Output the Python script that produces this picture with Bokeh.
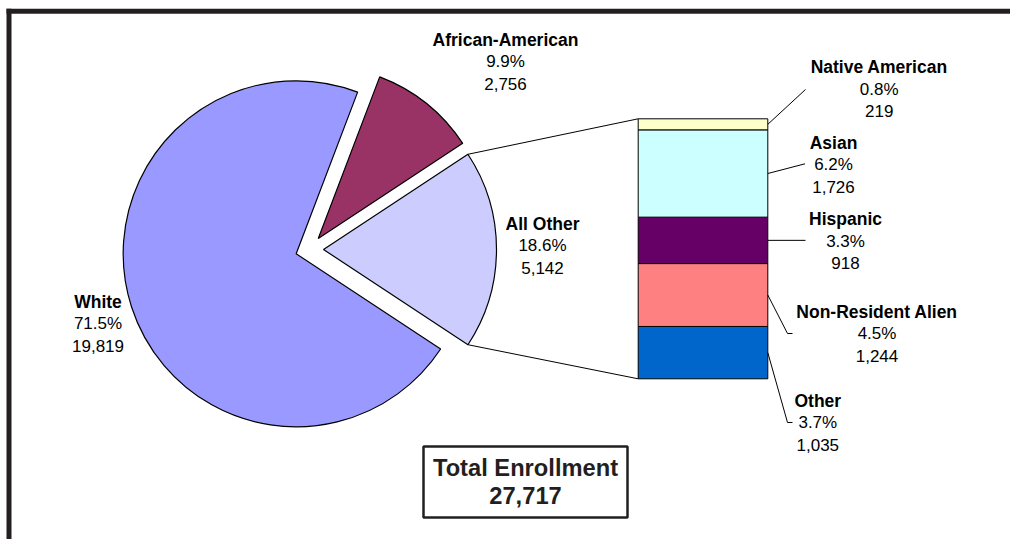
import math
from bokeh.plotting import figure
from bokeh.models import Range1d, ColumnDataSource
from bokeh.core.properties import value
from bokeh.embed import file_html
from bokeh.resources import INLINE

# ---------------- data ----------------
white_value = 19819
african_american_value = 2756
sub_categories = ["Native American", "Asian", "Hispanic", "Non-Resident Alien", "Other"]
sub_values = [219, 1726, 918, 1244, 1035]
all_other_value = sum(sub_values)

pie_categories = ["All Other", "African-American", "White"]
pie_values = [all_other_value, african_american_value, white_value]
total_value = sum(pie_values)
total_title = "Total Enrollment"

# ---------------- styles / layout ----------------
pie_colors = {"All Other": "#CCCCFF", "African-American": "#993366", "White": "#9999FF"}
sub_colors = {"Native American": "#FFFFCC", "Asian": "#CCFFFF", "Hispanic": "#660066",
              "Non-Resident Alien": "#FF8080", "Other": "#0066CC"}
FONT = "Liberation Sans"
W, H = 1010, 539
PIE_CX, PIE_CY, PIE_R, EXPLODE = 309.0, 290.0, 173.0, 14.0
BAR_LEFT, BAR_RIGHT = 637.7, 767.3
BAR_BOTTOM_PX, BAR_TOP_PX = 160.7, 420.7
LINE_STEP = 22.0
TEXT_SHIFT = 8.0
label_anchor = {
    "White": (97.5, 230.0),
    "African-American": (505.0, 491.7),
    "All Other": (542.0, 307.8),
    "Native American": (878.7, 464.2),
    "Asian": (833.0, 388.7),
    "Hispanic": (845.0, 312.3),
    "Non-Resident Alien": (876.5, 219.8),
    "Other": (817.3, 131.0),
}
leader_ends = {
    "Native American": [(805.0, 450.0)],
    "Asian": [(804.5, 375.7)],
    "Hispanic": [(805.0, None)],
    "Non-Resident Alien": [(787.0, 206.0), (792.0, 206.0)],
    "Other": [(787.0, 117.0), (792.0, 117.0)],
}
FRAME = "#231f20"

p = figure(width=W, height=H, x_range=Range1d(0, W), y_range=Range1d(0, H),
           toolbar_location=None, output_backend="svg", min_border=0,
           x_axis_location=None, y_axis_location=None)
p.grid.visible = False
p.outline_line_color = None
p.background_fill_color = "white"
p.border_fill_color = "white"

# ---------------- pie ----------------
angles = [v / total_value * 360.0 for v in pie_values]
start = -angles[0] / 2.0
starts, ends, cx, cy = [], [], [], []
for a in angles:
    s, e = start, start + a
    mid = math.radians((s + e) / 2.0)
    starts.append(math.radians(s))
    ends.append(math.radians(e))
    cx.append(PIE_CX + EXPLODE * math.cos(mid))
    cy.append(PIE_CY + EXPLODE * math.sin(mid))
    start = e
pie_src = ColumnDataSource(dict(x=cx, y=cy, s=starts, e=ends,
                                color=[pie_colors[c] for c in pie_categories]))
p.wedge(x="x", y="y", radius=PIE_R, start_angle="s", end_angle="e",
        fill_color="color", line_color="black", line_width=1.2, source=pie_src)

# ---------------- bar of pie ----------------
ppu = (BAR_TOP_PX - BAR_BOTTOM_PX) / all_other_value
p.extra_y_ranges = {"bar": Range1d(start=-BAR_BOTTOM_PX / ppu, end=(H - BAR_BOTTOM_PX) / ppu)}
order = list(reversed(range(len(sub_categories))))
bottoms, tops, cols, mids = [], [], [], {}
cum = 0
for i in order:
    bottoms.append(cum)
    tops.append(cum + sub_values[i])
    cols.append(sub_colors[sub_categories[i]])
    mids[sub_categories[i]] = BAR_BOTTOM_PX + (cum + sub_values[i] / 2.0) * ppu
    cum += sub_values[i]
p.quad(left=BAR_LEFT, right=BAR_RIGHT, bottom=bottoms, top=tops, fill_color=cols,
       line_color="black", line_width=1, y_range_name="bar")

# connectors from pie slice edges to the bar
ao = 0
for ang, corner in ((ends[ao], BAR_TOP_PX), (starts[ao], BAR_BOTTOM_PX)):
    p.line([cx[ao] + PIE_R * math.cos(ang), BAR_LEFT], [cy[ao] + PIE_R * math.sin(ang), corner],
           line_color="black", line_width=1)

# leader lines
for name in sub_categories:
    xs, ys = [BAR_RIGHT], [mids[name]]
    for (lx, ly) in leader_ends[name]:
        xs.append(lx)
        ys.append(mids[name] if ly is None else ly)
    p.line(xs, ys, line_color="black", line_width=1)

# ---------------- labels ----------------
label_names = pie_categories + sub_categories
label_vals = pie_values + sub_values
bx, by, bt, rx, ry, rt = [], [], [], [], [], []
for name, v in zip(label_names, label_vals):
    ax, ay = label_anchor[name]
    ay += TEXT_SHIFT
    bx.append(ax); by.append(ay); bt.append(name)
    rx += [ax, ax]
    ry += [ay - LINE_STEP, ay - 2 * LINE_STEP]
    rt += [f"{v / total_value * 100:.1f}%", f"{v:,}"]
p.text(x=bx, y=by, text=bt, text_align="center", text_baseline="alphabetic",
       text_font=value(FONT), text_font_size="17.5px", text_font_style="bold",
       text_color="black")
p.text(x=rx, y=ry, text=rt, text_align="center", text_baseline="alphabetic",
       text_font=value(FONT), text_font_size="17px", text_color="black")

# total box
p.quad(left=423, right=627, bottom=22, top=93, fill_color="white",
       line_color=FRAME, line_width=2.5)
p.text(x=[525, 525], y=[72, 44], text=[total_title, f"{total_value:,}"],
       text_align="center", text_baseline="alphabetic", text_font=value(FONT),
       text_font_size="23.7px", text_font_style="bold", text_color=FRAME)

# frame
p.quad(left=6, right=W, bottom=525.7, top=530.7, fill_color=FRAME, line_color=None)
p.quad(left=6, right=11, bottom=0, top=530.7, fill_color=FRAME, line_color=None)

open("out.html", "w").write(file_html(p, INLINE))
